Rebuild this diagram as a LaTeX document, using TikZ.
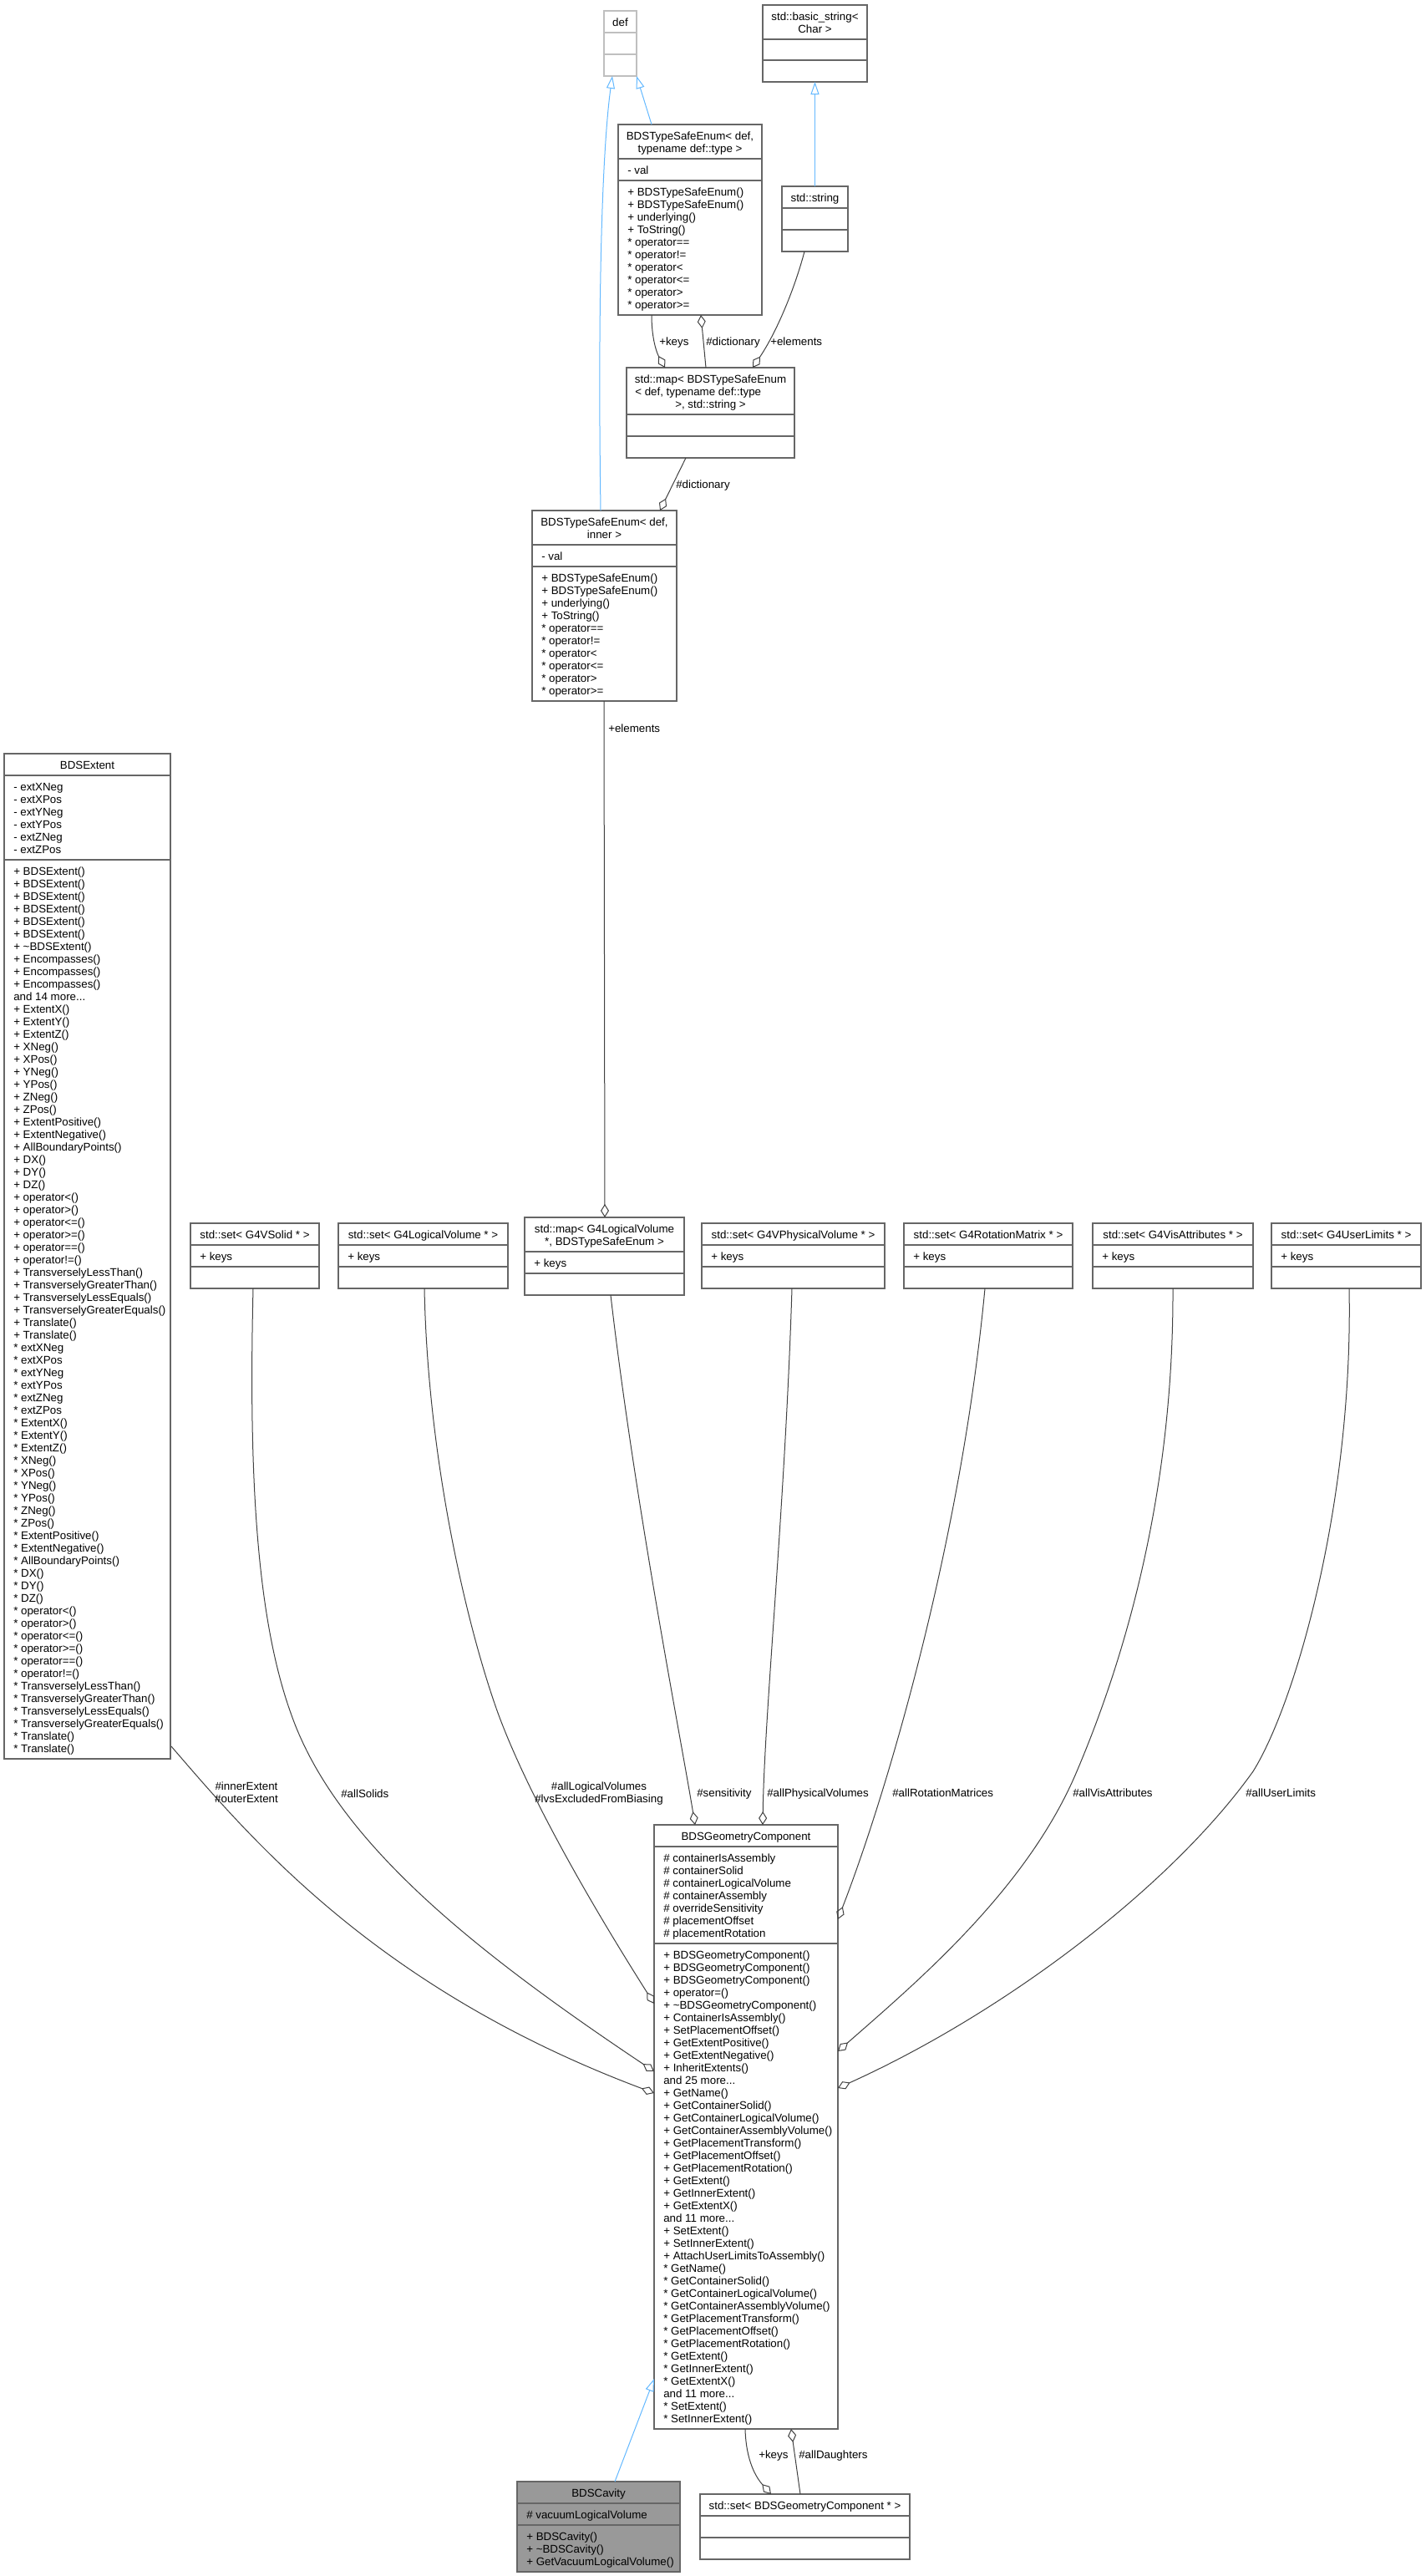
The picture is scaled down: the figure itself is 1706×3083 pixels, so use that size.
\documentclass[tikz,border=0pt]{standalone}
\usepackage{fontspec}
\setmainfont{Liberation Sans}
\usetikzlibrary{arrows.meta,fit,calc}
\definecolor{boxborder}{HTML}{666666}
\definecolor{defborder}{HTML}{BFBFBF}
\definecolor{edgegray}{HTML}{404040}
\definecolor{inhblue}{HTML}{63B8FF}
\definecolor{cavfill}{HTML}{999999}
\newcommand\tdots{...}
\tikzset{
  boxln/.style={draw=boxborder, line width=0.9pt},
  defln/.style={draw=defborder, line width=0.9pt},
  clsbox/.style={rectangle, boxln, fill=white, inner sep=0pt, outer sep=0pt},
  defbox/.style={clsbox, draw=defborder},
  cavbox/.style={clsbox, fill=cavfill},
  mtext/.style={anchor=base west, inner sep=0pt, font=\fontsize{10}{12}\selectfont},
  ctext/.style={anchor=base, inner sep=0pt, font=\fontsize{10}{12}\selectfont},
  conn/.style={draw=edgegray, line width=0.75pt},
  aggr/.style={conn, -{Diamond[open, length=12pt, width=7.5pt]}},
  inh/.style={draw=inhblue, line width=0.75pt, -{Triangle[open, length=11.25pt, width=7.5pt]}},
}
\newcommand\hsep[4][boxln]{\draw[#1] (#2,#4) -- (#3,#4);}
\newcommand\mlist[4]{%
  \foreach \itm [count=\i from 0] in {#4} {%
    \node[mtext] (#1-\i) at (#2,{#3+15*\i}) {\ignorespaces\itm};
  }%
}
\begin{document}
\begin{tikzpicture}[x=0.75pt,y=-0.75pt]
\useasboundingbox (0,0) rectangle (1706,3083);

% ---------- def ----------
\node[defbox, fit={(723,13) (762,91)}] (def) {};
\hsep[defln]{723}{762}{39}
\hsep[defln]{723}{762}{65}
\node[ctext] (def-t) at (742.5,31.5) {def};

% ---------- std::basic_string ----------
\node[clsbox, fit={(913,6) (1038,98)}] (bstr) {};
\hsep{913}{1038}{47}
\hsep{913}{1038}{72}
\node[ctext] (bstr-t1) at (975.5,24.5) {std::basic\_string<};
\node[ctext] (bstr-t2) at (975.5,39.5) {Char >};

% ---------- std::string ----------
\node[clsbox, fit={(936,223) (1015,301)}] (str) {};
\hsep{936}{1015}{249}
\hsep{936}{1015}{275}
\node[ctext] (str-t) at (975.5,241.5) {std::string};

% ---------- BDSTypeSafeEnum< def, typename def::type > ----------
\node[clsbox, fit={(740,149) (912,377)}] (tse) {};
\hsep{740}{912}{190}
\hsep{740}{912}{216}
\node[ctext] (tse-t1) at (826,167.5) {BDSTypeSafeEnum< def,};
\node[ctext] (tse-t2) at (826,182.5) {typename def::type >};
\node[mtext] (tse-a) at (751,208.5) {- val};
\mlist{tse}{751}{234.5}{+ BDSTypeSafeEnum(),+ BDSTypeSafeEnum(),+ underlying(),+ ToString(),* operator==,* operator!=,* operator<,* operator<=,* operator>,* operator>=}

% ---------- std::map< BDSTypeSafeEnum ... > ----------
\node[clsbox, fit={(750,440) (951,548)}] (map1) {};
\hsep{750}{951}{496}
\hsep{750}{951}{522}
\node[ctext] (map1-t1) at (850.5,458.5) {std::map< BDSTypeSafeEnum};
\node[mtext] (map1-t2) at (760,473.5) {< def, typename def::type};
\node[ctext] (map1-t3) at (850.5,488.5) {>, std::string >};

% ---------- BDSTypeSafeEnum< def, inner > ----------
\node[clsbox, fit={(637,611) (810,839)}] (tsi) {};
\hsep{637}{810}{652}
\hsep{637}{810}{678}
\node[ctext] (tsi-t1) at (723.5,629.5) {BDSTypeSafeEnum< def,};
\node[ctext] (tsi-t2) at (723.5,644.5) {inner >};
\node[mtext] (tsi-a) at (648,670.5) {- val};
\mlist{tsi}{648}{696.5}{+ BDSTypeSafeEnum(),+ BDSTypeSafeEnum(),+ underlying(),+ ToString(),* operator==,* operator!=,* operator<,* operator<=,* operator>,* operator>=}

% ---------- BDSExtent ----------
\node[clsbox, fit={(5,902) (204,2105)}] (ext) {};
\hsep{5}{204}{928}
\hsep{5}{204}{1029}
\node[ctext] (ext-t) at (104.5,920.5) {BDSExtent};
\mlist{exta}{16}{946.5}{- extXNeg,- extXPos,- extYNeg,- extYPos,- extZNeg,- extZPos}
\mlist{extm}{16}{1047.5}{+ BDSExtent(),+ BDSExtent(),+ BDSExtent(),+ BDSExtent(),+ BDSExtent(),+ BDSExtent(),
+ \textasciitilde{}BDSExtent(),+ Encompasses(),+ Encompasses(),+ Encompasses(),and 14 more\tdots,
+ ExtentX(),+ ExtentY(),+ ExtentZ(),+ XNeg(),+ XPos(),+ YNeg(),+ YPos(),+ ZNeg(),+ ZPos(),
+ ExtentPositive(),+ ExtentNegative(),+ AllBoundaryPoints(),+ DX(),+ DY(),+ DZ(),
+ operator<(),+ operator>(),+ operator<=(),+ operator>=(),+ operator==(),+ operator!=(),
+ TransverselyLessThan(),+ TransverselyGreaterThan(),+ TransverselyLessEquals(),+ TransverselyGreaterEquals(),
+ Translate(),+ Translate(),
* extXNeg,* extXPos,* extYNeg,* extYPos,* extZNeg,* extZPos,
* ExtentX(),* ExtentY(),* ExtentZ(),* XNeg(),* XPos(),* YNeg(),* YPos(),* ZNeg(),* ZPos(),
* ExtentPositive(),* ExtentNegative(),* AllBoundaryPoints(),* DX(),* DY(),* DZ(),
* operator<(),* operator>(),* operator<=(),* operator>=(),* operator==(),* operator!=(),
* TransverselyLessThan(),* TransverselyGreaterThan(),* TransverselyLessEquals(),* TransverselyGreaterEquals(),
* Translate(),* Translate()}

% ---------- row of containers ----------
\node[clsbox, fit={(228,1464) (382,1542)}] (s1) {};
\hsep{228}{382}{1490}
\hsep{228}{382}{1516}
\node[ctext] (s1-t) at (305,1482.5) {std::set< G4VSolid * >};
\node[mtext] (s1-a) at (239,1508.5) {+ keys};

\node[clsbox, fit={(405,1464) (608,1542)}] (s2) {};
\hsep{405}{608}{1490}
\hsep{405}{608}{1516}
\node[ctext] (s2-t) at (506.5,1482.5) {std::set< G4LogicalVolume * >};
\node[mtext] (s2-a) at (416,1508.5) {+ keys};

\node[clsbox, fit={(628,1457) (819,1550)}] (map2) {};
\hsep{628}{819}{1498}
\hsep{628}{819}{1524}
\node[ctext] (map2-t1) at (723.5,1475.5) {std::map< G4LogicalVolume};
\node[ctext] (map2-t2) at (723.5,1490.5) {*, BDSTypeSafeEnum >};
\node[mtext] (map2-a) at (639,1516.5) {+ keys};

\node[clsbox, fit={(840,1464) (1059,1542)}] (s3) {};
\hsep{840}{1059}{1490}
\hsep{840}{1059}{1516}
\node[ctext] (s3-t) at (949.5,1482.5) {std::set< G4VPhysicalVolume * >};
\node[mtext] (s3-a) at (851,1508.5) {+ keys};

\node[clsbox, fit={(1082,1464) (1284,1542)}] (s4) {};
\hsep{1082}{1284}{1490}
\hsep{1082}{1284}{1516}
\node[ctext] (s4-t) at (1183,1482.5) {std::set< G4RotationMatrix * >};
\node[mtext] (s4-a) at (1093,1508.5) {+ keys};

\node[clsbox, fit={(1308,1464) (1500,1542)}] (s5) {};
\hsep{1308}{1500}{1490}
\hsep{1308}{1500}{1516}
\node[ctext] (s5-t) at (1404,1482.5) {std::set< G4VisAttributes * >};
\node[mtext] (s5-a) at (1319,1508.5) {+ keys};

\node[clsbox, fit={(1522,1464) (1701,1542)}] (s6) {};
\hsep{1522}{1701}{1490}
\hsep{1522}{1701}{1516}
\node[ctext] (s6-t) at (1611.5,1482.5) {std::set< G4UserLimits * >};
\node[mtext] (s6-a) at (1533,1508.5) {+ keys};

% ---------- BDSGeometryComponent ----------
\node[clsbox, fit={(783,2184) (1003,2907)}] (geo) {};
\hsep{783}{1003}{2210}
\hsep{783}{1003}{2326}
\node[ctext] (geo-t) at (893,2202.5) {BDSGeometryComponent};
\mlist{geoa}{794}{2228.5}{\# containerIsAssembly,\# containerSolid,\# containerLogicalVolume,\# containerAssembly,\# overrideSensitivity,\# placementOffset,\# placementRotation}
\mlist{geom}{794}{2344.5}{+ BDSGeometryComponent(),+ BDSGeometryComponent(),+ BDSGeometryComponent(),+ operator=(),
+ \textasciitilde{}BDSGeometryComponent(),+ ContainerIsAssembly(),+ SetPlacementOffset(),+ GetExtentPositive(),
+ GetExtentNegative(),+ InheritExtents(),and 25 more\tdots,
+ GetName(),+ GetContainerSolid(),+ GetContainerLogicalVolume(),+ GetContainerAssemblyVolume(),
+ GetPlacementTransform(),+ GetPlacementOffset(),+ GetPlacementRotation(),+ GetExtent(),
+ GetInnerExtent(),+ GetExtentX(),and 11 more\tdots,+ SetExtent(),+ SetInnerExtent(),
+ AttachUserLimitsToAssembly(),
* GetName(),* GetContainerSolid(),* GetContainerLogicalVolume(),* GetContainerAssemblyVolume(),
* GetPlacementTransform(),* GetPlacementOffset(),* GetPlacementRotation(),* GetExtent(),
* GetInnerExtent(),* GetExtentX(),and 11 more\tdots,* SetExtent(),* SetInnerExtent()}

% ---------- BDSCavity ----------
\node[cavbox, fit={(619,2970) (814,3078)}] (cav) {};
\hsep{619}{814}{2996}
\hsep{619}{814}{3022}
\node[ctext] (cav-t) at (716.5,2988.5) {BDSCavity};
\node[mtext] (cav-a) at (630,3014.5) {\# vacuumLogicalVolume};
\mlist{cavm}{630}{3040.5}{+ BDSCavity(),+ \textasciitilde{}BDSCavity(),+ GetVacuumLogicalVolume()}

% ---------- std::set< BDSGeometryComponent * > ----------
\node[clsbox, fit={(838,2985) (1089,3063)}] (s7) {};
\hsep{838}{1089}{3011}
\hsep{838}{1089}{3037}
\node[ctext] (s7-t) at (963.5,3003.5) {std::set< BDSGeometryComponent * >};

% ---------- connectors ----------
\draw[inh] ($(tse.north west)+(40,0)$) -- (def.south east);
\draw[inh] ($(tsi.north west)+(82,0)$) .. controls (715,330) and (722,170) .. ($(def.south west)+(10,0)$);
\draw[inh] (str.north) -- (bstr.south);
\draw[aggr] ($(tse.south west)+(40,0)$) .. controls (780,405) and (786,422) .. ($(map1.north west)+(46,0)$);
\draw[aggr] ($(map1.north west)+(95,0)$) -- ($(tse.south west)+(99,0)$);
\draw[aggr] ($(str.south west)+(27,0)$) .. controls (950,350) and (928,400) .. ($(map1.north west)+(151,0)$);
\draw[aggr] ($(map1.south west)+(71,0)$) -- ($(tsi.north west)+(153,0)$);
\draw[aggr] ($(tsi.south west)+(86,0)$) -- ($(map2.north west)+(96,0)$);
\draw[aggr] ($(ext.south east)+(1,-15)$) .. controls (300,2200) and (450,2380) .. ($(geo.north west)+(0,321)$);
\draw[aggr] ($(s1.south west)+(75,0)$) .. controls (298,1750) and (305,1930) .. (348,2050) .. controls (400,2200) and (560,2330) .. ($(geo.north west)+(0,295)$);
\draw[aggr] ($(s2.south west)+(103,0)$) .. controls (512,1750) and (560,1950) .. (596,2050) .. controls (640,2170) and (740,2330) .. ($(geo.north west)+(0,214)$);
\draw[aggr] ($(map2.south west)+(103,0)$) .. controls (760,1800) and (815,2080) .. ($(geo.north west)+(49,0)$);
\draw[aggr] ($(s3.south west)+(108,0)$) .. controls (940,1800) and (915,2050) .. ($(geo.north west)+(130,0)$);
\draw[aggr] ($(s4.south west)+(97,0)$) .. controls (1150,1850) and (1060,2150) .. ($(geo.north east)+(0,113)$);
\draw[aggr] ($(s5.south west)+(96,0)$) .. controls (1405,1800) and (1340,2000) .. (1289,2120) .. controls (1230,2260) and (1100,2370) .. ($(geo.north east)+(0,271)$);
\draw[aggr] ($(s6.south west)+(93,0)$) .. controls (1620,1800) and (1550,2040) .. (1500,2120) .. controls (1400,2260) and (1200,2410) .. ($(geo.north east)+(0,315)$);
\draw[inh] ($(cav.north west)+(117,0)$) -- ($(geo.north west)+(0,663)$);
\draw[aggr] ($(geo.south west)+(109,0)$) .. controls (893,2945) and (905,2965) .. ($(s7.north west)+(85,0)$);
\draw[aggr] ($(s7.north west)+(120,0)$) -- ($(geo.south west)+(164,0)$);

% ---------- connector labels ----------
\node[mtext] (lb1) at (789,413.5) {+keys};
\node[mtext] (lb2) at (845,413.5) {\#dictionary};
\node[mtext] (lb3) at (922,413.5) {+elements};
\node[mtext] (lb4) at (809,584.5) {\#dictionary};
\node[mtext] (lb5) at (728,876.5) {+elements};
\node[ctext] (lb6a) at (295,2142.5) {\#innerExtent};
\node[ctext] (lb6b) at (295,2157.5) {\#outerExtent};
\node[mtext] (lb7) at (408,2151.5) {\#allSolids};
\node[ctext] (lb8a) at (717,2142.5) {\#allLogicalVolumes};
\node[ctext] (lb8b) at (717,2157.5) {\#lvsExcludedFromBiasing};
\node[mtext] (lb9) at (834,2150.5) {\#sensitivity};
\node[mtext] (lb10) at (918,2150.5) {\#allPhysicalVolumes};
\node[mtext] (lb11) at (1068,2150.5) {\#allRotationMatrices};
\node[mtext] (lb12) at (1284,2150.5) {\#allVisAttributes};
\node[mtext] (lb13) at (1491,2150.5) {\#allUserLimits};
\node[mtext] (lb14) at (908,2942.5) {+keys};
\node[mtext] (lb15) at (956,2942.5) {\#allDaughters};
\end{tikzpicture}
\end{document}
